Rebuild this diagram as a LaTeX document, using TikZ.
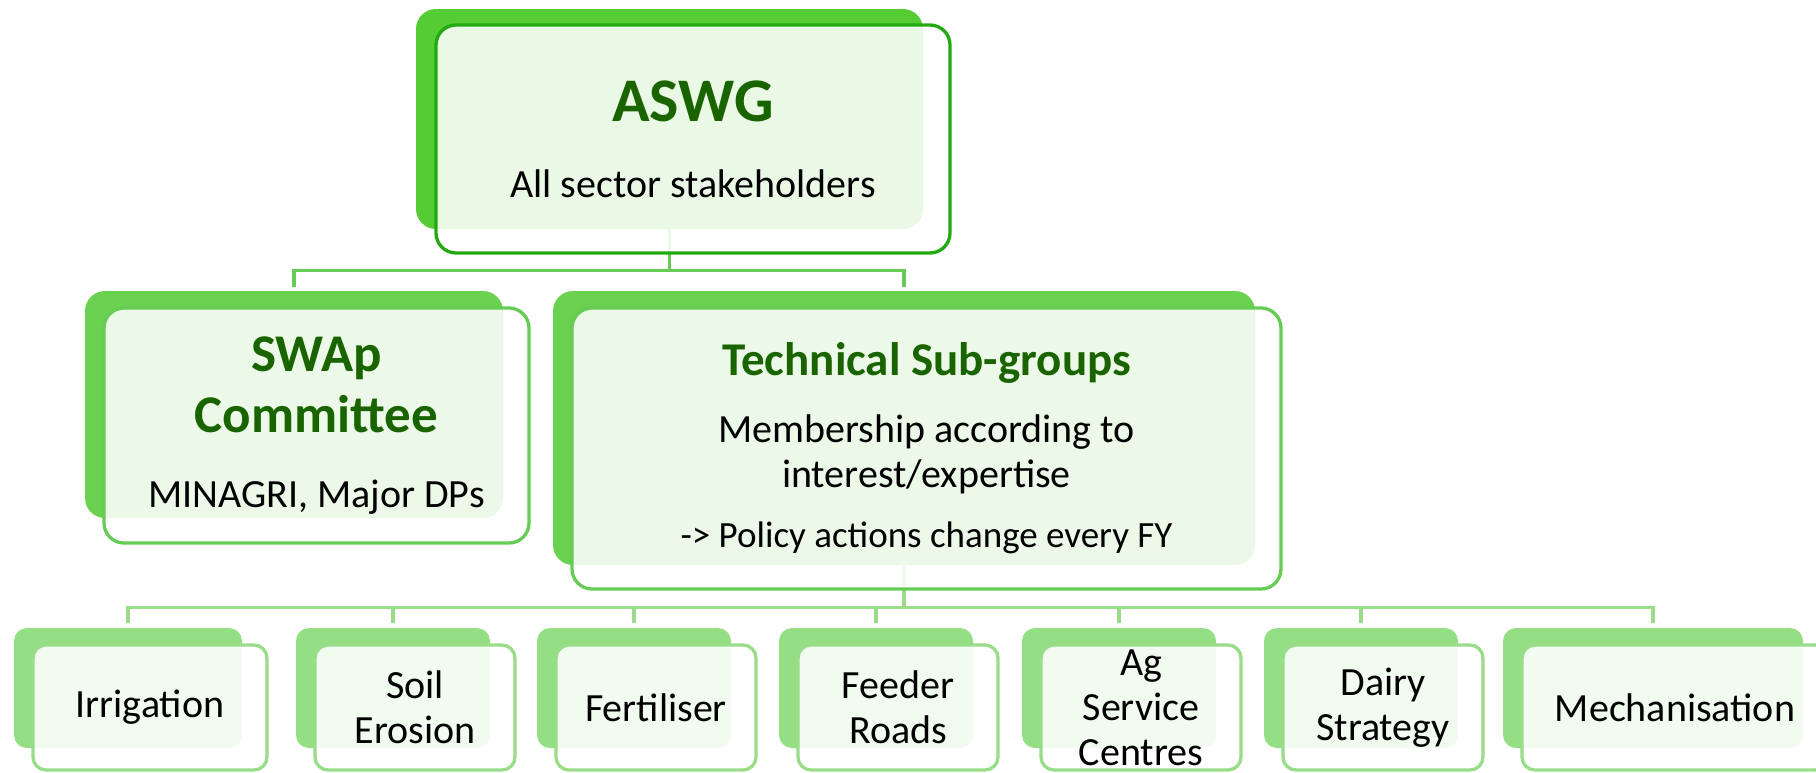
\documentclass[tikz,border=0pt]{standalone}
\usepackage{fontspec}
\setmainfont{Carlito}
\usetikzlibrary{positioning}

\definecolor{ttlgreen}{HTML}{1A6400}
\definecolor{backone}{HTML}{55CC33}
\definecolor{lineone}{HTML}{22AA11}
\definecolor{backtwo}{HTML}{6AD250}
\definecolor{linetwo}{HTML}{66CC55}
\definecolor{backthree}{HTML}{94DF84}
\definecolor{linethree}{HTML}{99DD88}

\newcommand{\ttl}[2]{{\fontsize{#1}{#1}\selectfont\bfseries\color{ttlgreen}#2}}

\tikzset{
  backbox/.style={rectangle, rounded corners=20pt, inner sep=0pt, fill=#1},
  frontbox/.style={rectangle, rounded corners=20pt, inner sep=0pt, draw=#1, line width=3.3pt,
    fill=white, fill opacity=0.88, text opacity=1, align=center, font=\fontsize{40}{45}\selectfont},
  link/.style={draw=#1, line width=3.3pt},
}

\begin{document}
\begin{tikzpicture}[x=1pt,y=-1pt]
\useasboundingbox (0,0) rectangle (1816,772);

\node[backbox=backone, minimum width=507pt, minimum height=220pt] (aswgB) at (669.5,119) {};
\node[backbox=backtwo, minimum width=418pt, minimum height=227pt] (swapB) at (294,404.5) {};
\node[backbox=backtwo, minimum width=702pt, minimum height=274pt] (tsgB) at (904,428) {};

\foreach \n/\x/\w in {irr/128/228, soil/393/194, fert/634/194, feed/876/194, ag/1119/194, dairy/1361/194, mech/1653/300}
  \node[backbox=backthree, rounded corners=13pt, minimum width=\w pt, minimum height=120pt] (\n B) at (\x,688) {};

\draw[link=linetwo] (aswgB.south) -- ++(0,41) -| ([yshift=4pt]swapB.north);
\draw[link=linetwo] (aswgB.south) -- ++(0,41) -| ([yshift=4pt]tsgB.north);
\foreach \n in {irr,soil,fert,feed,ag,dairy,mech}
  \draw[link=linethree] (tsgB.south) -- ++(0,42) -| ([yshift=5pt]\n B.north);

\node[frontbox=lineone, minimum width=514pt, minimum height=228pt] (aswg) at (693,139)
  {\ttl{62}{ASWG}\\[31pt]All sector stakeholders};
\node[frontbox=linetwo, minimum width=425pt, minimum height=235pt] (swap) at (316.5,425.5)
  {\ttl{53}{SWAp}\\[14pt]\ttl{53}{Committee}\\[30pt]MINAGRI, Major DPs};
\node[frontbox=linetwo, minimum width=709pt, minimum height=281pt] (tsg) at (926.5,448.5)
  {\ttl{47}{Technical Sub-groups}\\[22pt]Membership according to\\interest/expertise\\[15pt]{\fontsize{37}{44}\selectfont -> Policy actions change every FY}};

\tikzset{every node/.style={frontbox=linethree, rounded corners=13pt, minimum height=125pt}}
\node[minimum width=234pt] (irr) at (150,707.5) {Irrigation};
\node[minimum width=200pt] (soil) at (415,707.5) {Soil\\Erosion};
\node[minimum width=200pt] (fert) at (656,707.5) {Fertiliser};
\node[minimum width=200pt] (feed) at (898,707.5) {Feeder\\Roads};
\node[minimum width=200pt] (ag) at (1141,707.5) {Ag\\Service\\Centres};
\node[minimum width=200pt] (dairy) at (1383,707.5) {Dairy\\Strategy};
\node[minimum width=306pt] (mech) at (1675,707.5) {Mechanisation};
\end{tikzpicture}
\end{document}
